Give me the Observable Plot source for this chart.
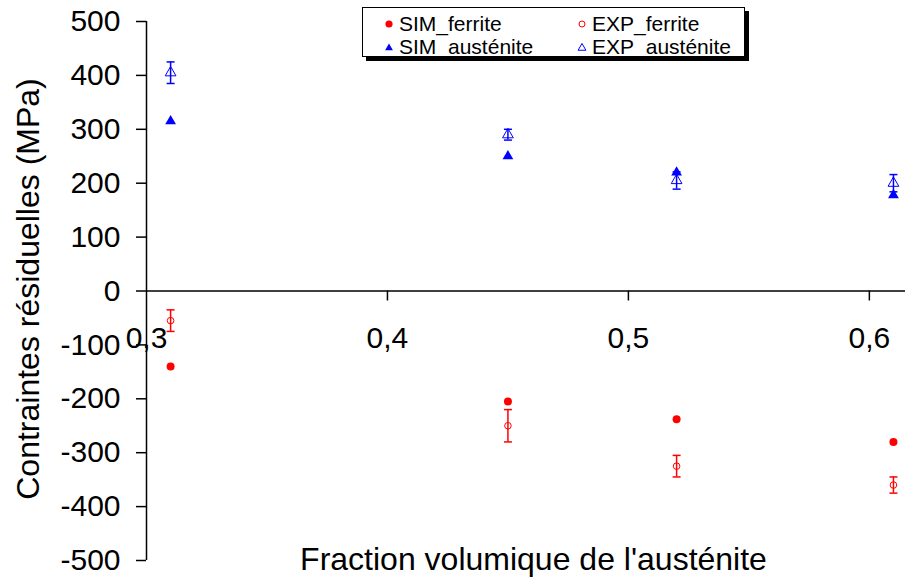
<!DOCTYPE html>
<html>
<head>
<meta charset="utf-8">
<script src="https://cdn.jsdelivr.net/npm/d3@7"></script>
<script src="https://cdn.jsdelivr.net/npm/@observablehq/plot@0.6"></script>
<style>
  html, body { margin: 0; padding: 0; background: #fff; }
  #wrap { position: relative; width: 906px; height: 578px; font-family: "Liberation Sans", Arial, sans-serif; }
  #legend { position: absolute; left: 362px; top: 7px; width: 383px; height: 50px; border: 1px solid #000; background: #fff; box-shadow: 4px 4px 0 #000; box-sizing: border-box; }
  .item { position: absolute; font-size: 21px; line-height: 21px; color: #000; white-space: nowrap; }
  .item svg { position: absolute; left: -16px; top: 5px; }
</style>
</head>
<body>
<div id="wrap">
  <div id="chart"></div>
  <div id="legend"></div>
</div>
<script>
// ---- data ----
const xValues = [0.31, 0.45, 0.52, 0.61];
const simFerrite = [-140, -205, -238, -280];
const expFerrite = [-55, -250, -325, -360];
const expFerriteErr = [20, 30, 20, 15];
const simAustenite = [315, 250, 220, 178];
const expAustenite = [405, 290, 205, 200];
const expAusteniteErr = [20, 10, 16, 16];
const xTicks = [0.3, 0.4, 0.5, 0.6];
const xTickLabels = ["0,3", "0,4", "0,5", "0,6"];
const yTicks = [-500, -400, -300, -200, -100, 0, 100, 200, 300, 400, 500];
const seriesNames = ["SIM_ferrite", "EXP_ferrite", "SIM_austénite", "EXP_austénite"];
const xTitle = "Fraction volumique de l'austénite";
const yTitle = "Contraintes résiduelles (MPa)";

const RED = "#ff0000", BLUE = "#0000ff";
const FONT = "Liberation Sans, Arial, sans-serif";

const rows = (ys, errs) => xValues.map((x, i) => ({x, y: ys[i], e: errs ? errs[i] : 0}));
const sf = rows(simFerrite), ef = rows(expFerrite, expFerriteErr);
const sa = rows(simAustenite), ea = rows(expAustenite, expAusteniteErr);
const caps = (r) => r.flatMap(d => [{x: d.x, y: d.y - d.e}, {x: d.x, y: d.y + d.e}]);
const tickRows = xTicks.map((x, i) => ({x, label: xTickLabels[i]}));

const capSymbol = {
  draw(ctx, size) {
    const w = Math.sqrt(size / Math.PI);
    ctx.moveTo(-w, 0); ctx.lineTo(w, 0);
  }
};

const plot = Plot.plot({
  width: 906,
  height: 578,
  marginLeft: 146,
  marginRight: 1,
  marginTop: 21,
  marginBottom: 18,
  style: {fontFamily: FONT, background: "#fff", overflow: "visible"},
  x: {domain: [0.3, 0.615], axis: null},
  y: {domain: [-500, 500], axis: null},
  marks: [
    Plot.axisY({ticks: yTicks, tickSize: 10, tickPadding: 16, fontSize: 30, tickFormat: d => String(d), label: null, stroke: "#000", strokeWidth: 1.5}),
    Plot.ruleX([0.3], {stroke: "#000", strokeWidth: 1.5}),
    Plot.ruleY([0], {stroke: "#000", strokeWidth: 1.5}),
    Plot.ruleX(tickRows.filter(d => d.x > 0.3), {x: "x", y1: 0, y2: -18.5, stroke: "#000", strokeWidth: 1.5}),
    Plot.text(tickRows, {x: "x", y: 0, text: "label", dy: 47, fontSize: 30, fill: "#000", lineAnchor: "middle", textAnchor: "middle"}),
    Plot.text([yTitle], {frameAnchor: "left", dx: -118, dy: -2, rotate: -90, fontSize: 32, textAnchor: "middle", lineAnchor: "middle", fill: "#000"}),
    Plot.text([xTitle], {frameAnchor: "bottom", dx: 7.5, dy: 9, fontSize: 32, textAnchor: "middle", lineAnchor: "bottom", fill: "#000"}),
    // error bars
    Plot.ruleX(ef, {x: "x", y1: d => d.y - d.e, y2: d => d.y + d.e, stroke: RED, strokeWidth: 1.5}),
    Plot.dot(caps(ef), {x: "x", y: "y", symbol: capSymbol, r: 4, stroke: RED, strokeWidth: 1.5, fill: "none"}),
    Plot.ruleX(ea, {x: "x", y1: d => d.y - d.e, y2: d => d.y + d.e, stroke: BLUE, strokeWidth: 1.5}),
    Plot.dot(caps(ea), {x: "x", y: "y", symbol: capSymbol, r: 4, stroke: BLUE, strokeWidth: 1.5, fill: "none"}),
    // markers
    Plot.dot(sf, {x: "x", y: "y", r: 4, fill: RED, stroke: "none"}),
    Plot.dot(ef, {x: "x", y: "y", r: 3.3, fill: "none", stroke: RED, strokeWidth: 1}),
    Plot.dot(sa, {x: "x", y: "y", symbol: "triangle", r: 4, fill: BLUE, stroke: "none"}),
    Plot.dot(ea, {x: "x", y: "y", symbol: "triangle", r: 4, fill: "none", stroke: BLUE, strokeWidth: 1})
  ]
});
document.getElementById("chart").appendChild(plot);

// legend
const legendSymbols = [
  '<circle cx="6" cy="6" r="3.6" fill="' + RED + '"/>',
  '<circle cx="6" cy="6" r="3" fill="none" stroke="' + RED + '" stroke-width="1"/>',
  '<path d="' + d3.symbol(d3.symbolTriangle2, Math.PI * 14)() + '" transform="translate(6,7)" fill="' + BLUE + '"/>',
  '<path d="' + d3.symbol(d3.symbolTriangle2, Math.PI * 14)() + '" transform="translate(6,7)" fill="none" stroke="' + BLUE + '" stroke-width="1"/>'
];
const legendPos = [[36, 5], [229, 5], [36, 28], [229, 28]];
const legend = document.getElementById("legend");
seriesNames.forEach((name, i) => {
  const div = document.createElement("div");
  div.className = "item";
  div.style.left = legendPos[i][0] + "px";
  div.style.top = legendPos[i][1] + "px";
  div.innerHTML = '<svg width="12" height="12">' + legendSymbols[i] + '</svg>' + name;
  legend.appendChild(div);
});
</script>
</body>
</html>
